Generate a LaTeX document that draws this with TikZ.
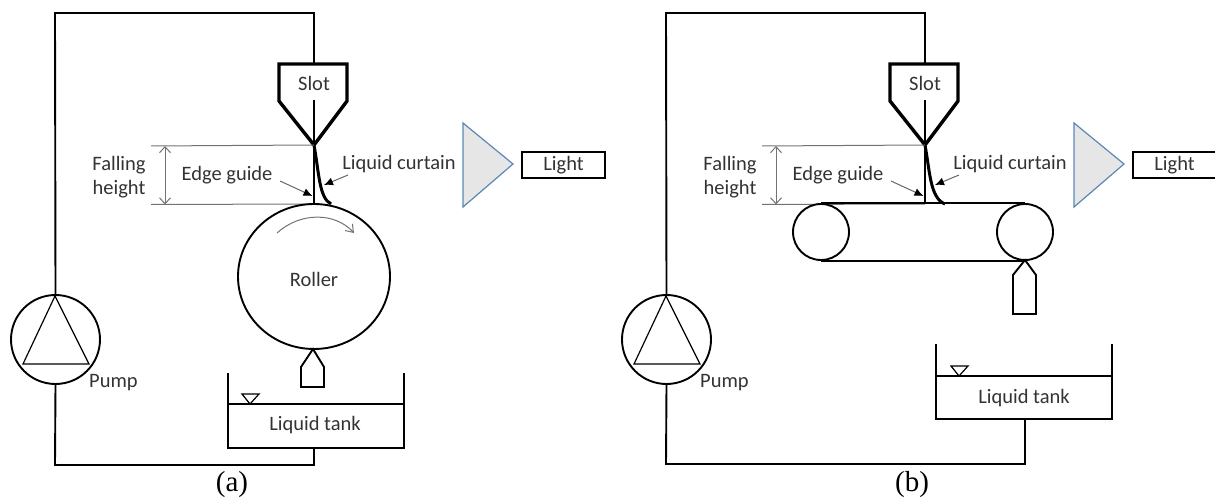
\documentclass[tikz,border=0pt]{standalone}
\usepackage{fontspec}
\setmainfont{Carlito}
\newfontfamily\capfont{Liberation Serif}
\usetikzlibrary{arrows.meta,shapes.geometric}
\definecolor{edgeblue}{HTML}{5B87B5}
\definecolor{graytri}{HTML}{E6E6E6}
\tikzset{
  pipe/.style={line width=1.9pt},
  thinline/.style={line width=1.2pt},
  slotline/.style={line width=3.4pt, line join=miter},
  dimline/.style={line width=1pt, color=black!55},
  leader/.style={line width=1pt, color=black!60, -{Latex[black,length=9pt,width=8pt]}},
  textlab/.style={font=\fontsize{20.5}{24.5}\selectfont, text=black!80, inner sep=0pt, align=center},
  caption/.style={font=\capfont\fontsize{29}{31}\selectfont, inner sep=0pt}
}
\begin{document}
\begin{tikzpicture}[x=1pt,y=-1pt]
  \useasboundingbox (0,0) rectangle (1215,500);
  % parts shared by both panels
  \foreach \dx/\pname/\ex/\capx in {0/a/331/232, 611/b/334/912}{
    \begin{scope}[shift={(\dx,0)}]
      \node[circle, draw, pipe, minimum size=89pt, inner sep=0pt] (pump\pname) at (55.5,339.5) {};
      \node[textlab] (slot\pname) at (314,83) {Slot};
      \node[textlab] (fall\pname) at (119,177) {Falling\\height};
      \node[textlab] (edge\pname) at (227,175.5) {Edge guide};
      \node[textlab] (curt\pname) at (399,164.5) {Liquid curtain};
      \node[textlab, anchor=west] (pumplab\pname) at (89,383) {Pump};
      \node[draw, line width=1.8pt, minimum width=83pt, minimum height=26pt, textlab] (light\pname) at (563.5,165) {Light};
      \node[caption] (cap\pname) at (\capx-\dx,485) {(\pname)};
      \coordinate (tip\pname) at (314,145);
      \coordinate (guide\pname) at (314,204);
      \coordinate (fallt\pname) at (151,146);
      \coordinate (fallb\pname) at (151,204.5);
      \draw[pipe] (pump\pname.north) -- (55,13) -- (314,13) -- (314,64);
      \draw[thinline] (55,296) -- (23,364) -- (89,364) -- cycle;
      \draw[slotline] (279,64) -- (347,64) -- (347,101) -- (tip\pname) -- (279,101) -- cycle;
      \draw[thinline] (314,100) -- (guide\pname);
      \draw[line width=3pt] (tip\pname) .. controls (319,172) and (319,198) .. (\ex,204);
      \draw[dimline] (fallt\pname) -- (tip\pname);
      \draw[dimline] (fallb\pname) -- (guide\pname);
      \draw[dimline, {Straight Barb[length=6pt,width=11pt]}-{Straight Barb[length=6pt,width=11pt]}] (165,146) -- (165,204.5);
      \draw[leader] (280,181) -- (312.5,196);
      \draw[leader] (348,175) -- (324,185);
      \draw[edgeblue, line width=1.2pt, fill=graytri] (463,123) -- (513,164) -- (463,207) -- cycle;
    \end{scope}
  }
  % (a) roller and tank
  \node[ellipse, draw, pipe, minimum width=152pt, minimum height=145pt, inner sep=0pt] (roller) at (314,276.5) {};
  \node[textlab] (rollerlab) at (314,279.5) {Roller};
  \node[textlab] (tanka) at (315,425.5) {Liquid tank};
  \draw[dimline, -{Straight Barb[length=7pt,width=10pt]}] (277,233) .. controls (300,212) and (335,212) .. (354,233);
  \draw[pipe] (313,349) -- (324,367) -- (324,387) -- (301,387) -- (301,367) -- cycle;
  \draw[pipe] (228,373) -- (228,448) -- (404,448) -- (404,373);
  \draw[thinline] (228,404) -- (404,404);
  \draw[thinline] (242,394) -- (259,394) -- (250,404) -- cycle;
  \draw[pipe] (pumpa.south) -- (55,465) -- (314,465) -- (314,448);
  % (b) belt and tank
  \node[circle, draw, pipe, minimum size=56pt, inner sep=0pt] (rolll) at (821,232) {};
  \node[circle, draw, pipe, minimum size=56pt, inner sep=0pt] (rollr) at (1025,232) {};
  \node[textlab] (tankb) at (1024,398.5) {Liquid tank};
  \draw[line width=2.4pt] (rolll.north) -- (rollr.north);
  \draw[line width=2.4pt] (rolll.south) -- (rollr.south);
  \draw[pipe] (1025,260) -- (1036,275) -- (1036,314) -- (1013,314) -- (1013,275) -- cycle;
  \draw[pipe] (936,344) -- (936,419) -- (1112,419) -- (1112,344);
  \draw[thinline] (936,376) -- (1112,376);
  \draw[thinline] (951,366) -- (968,366) -- (959,376) -- cycle;
  \draw[pipe] (pumpb.south) -- (666,464) -- (1025,464) -- (1025,419);
\end{tikzpicture}
\end{document}
